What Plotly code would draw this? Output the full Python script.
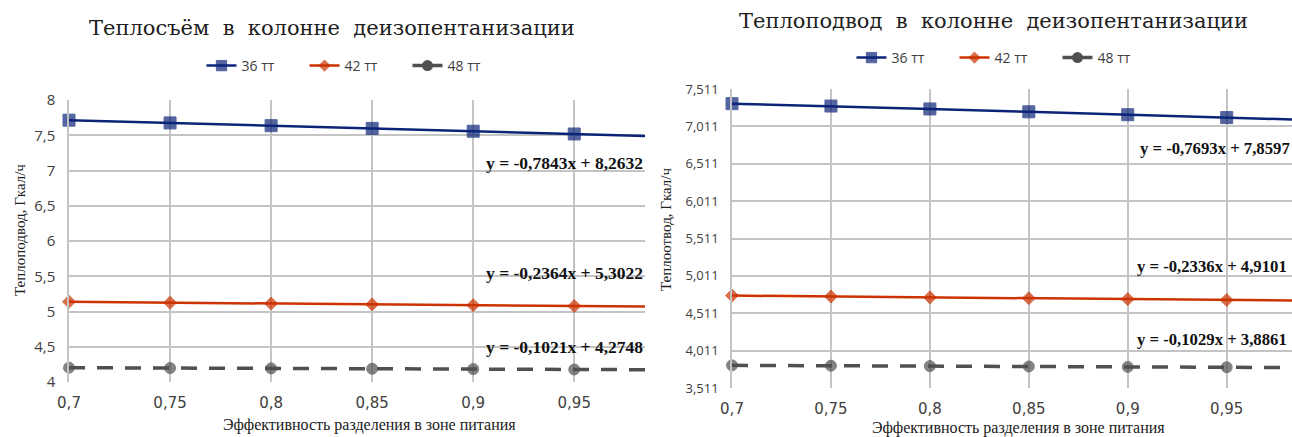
import plotly.graph_objects as go

# ---- data ----
x_vals = [0.7, 0.75, 0.8, 0.85, 0.9, 0.95, 1.0]
series_names = ["36 тт", "42 тт", "48 тт"]

# left chart: Теплосъём
left_36 = [7.714, 7.675, 7.636, 7.597, 7.557, 7.518, 7.479]
left_42 = [5.137, 5.125, 5.113, 5.101, 5.090, 5.078, 5.066]
left_48 = [4.203, 4.198, 4.193, 4.188, 4.183, 4.178, 4.173]
left_eq = ["y = -0,7843x + 8,2632", "y = -0,2364x + 5,3022", "y = -0,1021x + 4,2748"]

# right chart: Теплоподвод
right_36 = [7.315, 7.283, 7.244, 7.206, 7.167, 7.129, 7.090]
right_42 = [4.747, 4.735, 4.723, 4.712, 4.700, 4.688, 4.677]
right_48 = [3.814, 3.809, 3.804, 3.799, 3.793, 3.788, 3.783]
right_eq = ["y = -0,7693x + 7,8597", "y = -0,2336x + 4,9101", "y = -0,1029x + 3,8861"]

titles = ["Теплосъём  в  колонне  деизопентанизации", "Теплоподвод  в  колонне  деизопентанизации"]
y_titles = ["Теплоподвод, Гкал/ч", "Теплоотвод, Гкал/ч"]
x_title = "Эффективность разделения в зоне питания"

# ---- styles ----
colors = ["#0c2478", "#cc3300", "#505050"]
symbols = ["square", "diamond", "circle"]
msizes = [12, 10, 11]
dashes = ["solid", "solid", "16px,12px"]
legend_dashes = ["solid", "solid", "12px,6px"]
widths = [2.5, 2.5, 3.5]

W, H = 1292, 437
fig = go.Figure()

def sizes(n, s):
    return [s] * (n - 1) + [0]

def add_group(series, xa, ya, leg):
    for i, ys in enumerate(series):
        fig.add_trace(go.Scatter(
            x=x_vals, y=ys, name=series_names[i], mode="lines+markers",
            line=dict(color=colors[i], width=widths[i], dash=dashes[i]),
            marker=dict(symbol=symbols[i], size=sizes(len(x_vals), msizes[i]), color=colors[i],
                        line=dict(color=colors[i], width=1)),
            cliponaxis=False, xaxis=xa, yaxis=ya, legend=leg,
            showlegend=(dashes[i] == legend_dashes[i])))
        if dashes[i] != legend_dashes[i]:
            # legend entry for the dashed series (same style, shorter dash so the key reads well)
            fig.add_trace(go.Scatter(
                x=[None], y=[None], name=series_names[i], mode="lines+markers",
                line=dict(color=colors[i], width=widths[i], dash=legend_dashes[i]),
                marker=dict(symbol=symbols[i], size=msizes[i], color=colors[i]),
                xaxis=xa, yaxis=ya, legend=leg, hoverinfo="skip"))

add_group([left_36, left_42, left_48], "x", "y", "legend")
add_group([right_36, right_42, right_48], "x2", "y2", "legend2")

grid = "#c4c4c4"
tickfont = dict(family="DejaVu Sans", size=15, color="#404040")

fig.update_layout(
    width=W, height=H, margin=dict(l=0, r=0, t=0, b=0, autoexpand=False),
    paper_bgcolor="white", plot_bgcolor="white",
    separators=",.",
    xaxis=dict(domain=[69 / W, 645 / W], range=[0.7, 0.985], dtick=0.05, tick0=0.7,
               showgrid=True, gridcolor=grid, gridwidth=1.5, zeroline=False, automargin=False,
               showline=False, ticks="", tickfont=tickfont, ticklabelstandoff=10),
    yaxis=dict(domain=[1 - 382 / H, 1 - 100 / H], range=[4, 8], dtick=0.5, tick0=4,
               showgrid=True, gridcolor=grid, gridwidth=1.5, zeroline=False, automargin=False,
               showline=True, linecolor=grid, linewidth=1.5, ticks="", ticklabelstandoff=9,
               tickfont=dict(family="Open Sans", size=15, color="#404040"), anchor="x"),
    xaxis2=dict(domain=[732 / W, 1.0], range=[0.7, 0.983], dtick=0.05, tick0=0.7,
                showgrid=True, gridcolor=grid, gridwidth=1.5, zeroline=False, automargin=False,
                showline=False, ticks="", tickfont=tickfont, anchor="y2", ticklabelstandoff=10),
    yaxis2=dict(domain=[1 - 388 / H, 1 - 89 / H], range=[3.511, 7.511], dtick=0.5, tick0=3.511,
                tickformat=".3f", showgrid=True, gridcolor=grid, gridwidth=1.5, zeroline=False,
                showline=True, linecolor=grid, linewidth=1.5, ticks="", automargin=False,
                ticklabelstandoff=9,
                tickfont=dict(family="Open Sans", size=13, color="#404040"), anchor="x2"),
    legend=dict(orientation="h", x=356 / W, xanchor="center", y=1 - 66 / H, yanchor="middle",
                entrywidth=58, itemwidth=30,
                font=dict(family="Open Sans", size=14, color="#404040"), bgcolor="rgba(0,0,0,0)"),
    legend2=dict(orientation="h", x=1006 / W, xanchor="center", y=1 - 58 / H, yanchor="middle",
                 entrywidth=58, itemwidth=30,
                 font=dict(family="Open Sans", size=14, color="#404040"), bgcolor="rgba(0,0,0,0)"),
    showlegend=True,
)

serif = "Liberation Serif"
ann = []
def txt(text, xp, yp, size, family=serif, angle=0, xanchor="center", color="#202020"):
    ann.append(dict(text=text, x=xp / W, y=1 - yp / H, xref="paper", yref="paper",
                    xanchor=xanchor, yanchor="middle", textangle=angle, showarrow=False,
                    font=dict(family=family, size=size, color=color)))

# titles
txt(titles[0], 332, 28, 21, family="DejaVu Serif")
txt(titles[1], 993, 21, 21, family="DejaVu Serif")
# y titles
txt(y_titles[0], 20, 230, 15, angle=-90)
txt(y_titles[1], 666, 230, 15, angle=-90)
# x titles
txt(x_title, 370, 425, 16)
txt(x_title, 1018, 428, 16)
# equations
for t, yy in zip(left_eq, [163, 273, 347]):
    txt("<b>" + t + "</b>", 645, yy, 17.5, xanchor="right", color="#111111")
for t, yy, xx in zip(right_eq, [148, 266, 339], [1138, 1135, 1135]):
    txt("<b>" + t + "</b>", xx, yy, 16.7, xanchor="left", color="#111111")

fig.update_layout(annotations=ann)
fig.write_html("out.html", config={"displayModeBar": False},
               post_script="document.body.style.margin='0px';")
